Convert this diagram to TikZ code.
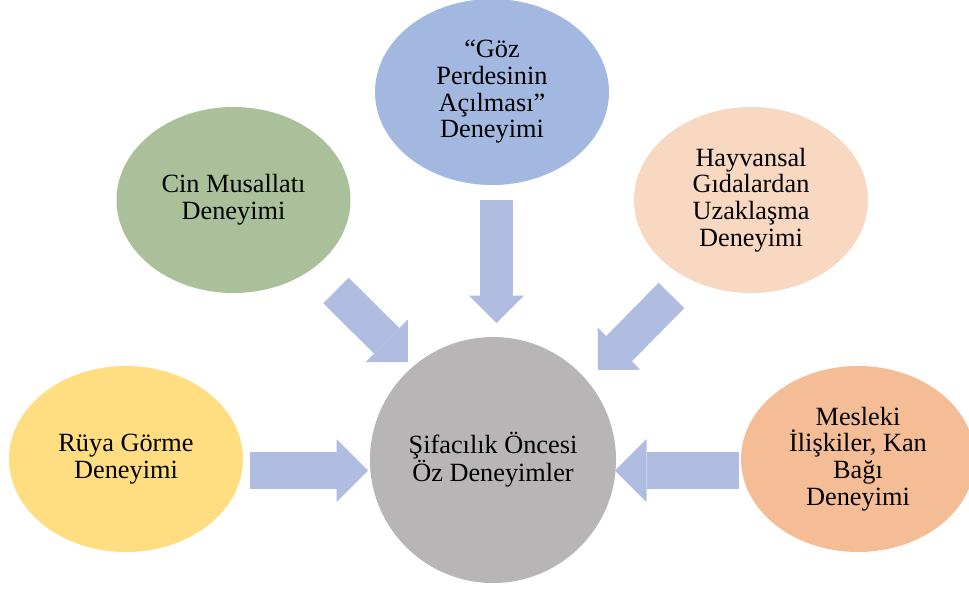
\documentclass[tikz,border=0pt]{standalone}
\usepackage{fontspec}
\setmainfont{Liberation Serif}
\usetikzlibrary{arrows.meta,calc,shapes.geometric}
\definecolor{coregray}{RGB}{183,181,182}
\definecolor{skyblue}{RGB}{162,184,224}
\definecolor{sagegreen}{RGB}{169,192,154}
\definecolor{peach}{RGB}{248,216,192}
\definecolor{sandyellow}{RGB}{255,221,128}
\definecolor{salmon}{RGB}{245,189,150}
\definecolor{arrowblue}{RGB}{176,188,224}
\begin{document}
\begin{tikzpicture}
[x=1pt, y=-1pt,
 nodes={ellipse, minimum width=234pt, minimum height=186pt, inner sep=0pt, align=center,
        font=\fontsize{26.3}{26.7}\selectfont,
        execute at begin node={\rule{0pt}{23.4pt}}, execute at end node={\rule[-5.7pt]{0pt}{0pt}}},
 flow/.style n args={3}{draw=arrowblue, line width=#1, -{Triangle[width=#2, length=#3, line width=0pt]}}]
\useasboundingbox (0,0) rectangle (969,590);
\node (SOD) at (493,460) [circle, minimum size=246pt, fill=coregray] {Şifacılık Öncesi\\Öz Deneyimler};
\node (GPA) at (492,92) [fill=skyblue] {“Göz\\Perdesinin\\Açılması”\\Deneyimi};
\node (CM) at (233.5,200) [fill=sagegreen] {Cin Musallatı\\Deneyimi};
\node (HGU) at (751,200) [fill=peach] {Hayvansal\\Gıdalardan\\Uzaklaşma\\Deneyimi};
\node (RG) at (126,459) [fill=sandyellow] {Rüya Görme\\Deneyimi};
\node (MIK) at (858,459) [fill=salmon] {Mesleki\\İlişkiler, Kan\\Bağı\\Deneyimi};

\draw[flow={37pt}{63pt}{31.5pt}] ($(RG)+(124,11.5)$) -- ($(SOD)+(-125,10.5)$);
\draw[flow={37pt}{63pt}{31.5pt}] ($(MIK)+(-119,11.5)$) -- ($(SOD)+(122,10.5)$);
\draw[flow={33pt}{55pt}{27.5pt}] ($(GPA)+(4.5,108)$) -- ($(SOD)+(3.5,-137)$);
\draw[flow={36pt}{60pt}{30pt}] ($(CM)+(102.5,90.5)$) -- ($(SOD)+(-85,-98)$);
\draw[flow={36pt}{60pt}{30pt}] ($(HGU)+(-79.5,95.5)$) -- ($(SOD)+(105,-90)$);
\end{tikzpicture}
\end{document}
